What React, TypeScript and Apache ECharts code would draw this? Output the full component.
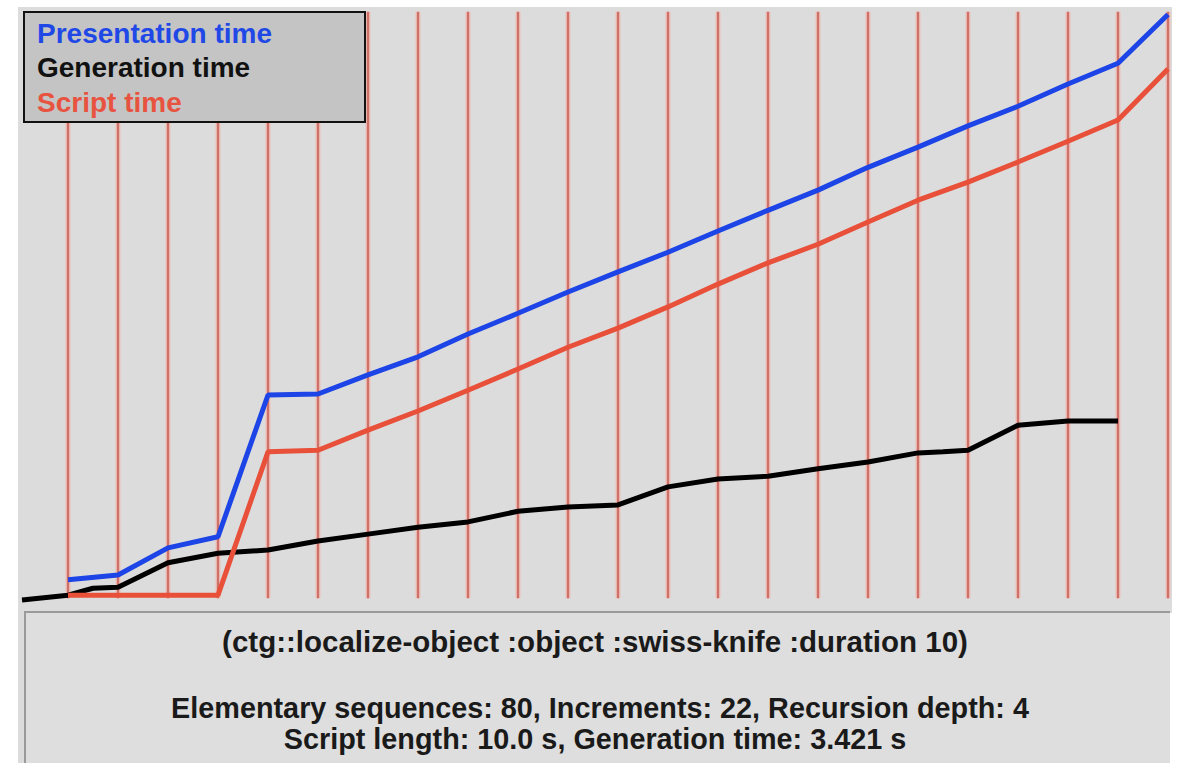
import React, { useEffect, useRef } from "react";
import * as echarts from "echarts";

// grid boundary indices (increments)
const incrementIdx = [0, 1, 2, 3, 4, 5, 6, 7, 8, 9, 10, 11, 12, 13, 14, 15, 16, 17, 18, 19, 20, 21, 22];

// Presentation time (s) at each increment boundary
const presentationX = [0, 1, 2, 3, 4, 5, 6, 7, 8, 9, 10, 11, 12, 13, 14, 15, 16, 17, 18, 19, 20, 21, 22];
const presentationY = [0.4, 0.49, 1.0, 1.21, 3.88, 3.9, 4.26, 4.6, 5.03, 5.42, 5.82, 6.2, 6.57, 6.97, 7.36, 7.74, 8.17, 8.55, 8.95, 9.32, 9.74, 10.13, 11.05];

// Script time (s)
const scriptX = [0, 1, 2, 3, 4, 5, 6, 7, 8, 9, 10, 11, 12, 13, 14, 15, 16, 17, 18, 19, 20, 21, 22];
const scriptY = [0.11, 0.11, 0.11, 0.11, 2.81, 2.84, 3.22, 3.58, 3.97, 4.37, 4.78, 5.14, 5.54, 5.97, 6.37, 6.72, 7.14, 7.55, 7.89, 8.27, 8.66, 9.06, 10.02];

// Generation time (s)
const generationX = [-0.92, 0, 0.5, 1, 2, 3, 4, 5, 6, 7, 8, 9, 10, 11, 12, 13, 14, 15, 16, 17, 17.5, 18, 19, 20, 21];
const generationY = [0.02, 0.11, 0.24, 0.26, 0.72, 0.9, 0.96, 1.13, 1.26, 1.39, 1.49, 1.69, 1.77, 1.81, 2.15, 2.3, 2.35, 2.49, 2.62, 2.79, 2.81, 2.84, 3.31, 3.39, 3.39];

const legendNames = ["Presentation time", "Generation time", "Script time"];
const legendColors = ["#1f48e6", "#111111", "#e8533f"];

const titleText = "(ctg::localize-object :object :swiss-knife :duration 10)";
const infoLine1 = "Elementary sequences: 80, Increments: 22, Recursion depth: 4";
const infoLine2 = "Script length: 10.0 s, Generation time: 3.421 s";

const zip = (xs: number[], ys: number[]) => xs.map((x, i) => [x, ys[i]]);

export default function App() {
  const ref = useRef<HTMLDivElement>(null);
  useEffect(() => {
    if (!ref.current) return;
    const chart = echarts.init(ref.current, undefined, { renderer: "svg" });
    const font = "'Liberation Sans', Arial, sans-serif";
    chart.setOption({
      animation: false,
      backgroundColor: "#ffffff",
      grid: { left: 19, top: 7, width: 1153, height: 594, show: false },
      xAxis: { type: "value", min: -0.98, max: 22.08, show: false },
      yAxis: { type: "value", min: 0, max: 11.19, show: false },
      graphic: [
        { type: "rect", z: -10, shape: { x: 18, y: 7, width: 1154, height: 756 }, style: { fill: "#dcdcdc" } },
        { type: "rect", z: -9, shape: { x: 25, y: 612, width: 1145, height: 160 }, style: { fill: "#dedede" } },
        { type: "polyline", z: -8, shape: { points: [[25, 770], [25, 612], [1170, 612]] }, style: { stroke: "#9a9a9a", lineWidth: 2, fill: "none" } },
        { type: "line", z: -8, shape: { x1: 1171, y1: 613, x2: 1171, y2: 770 }, style: { stroke: "#ffffff", lineWidth: 2 } },
        {
          type: "text", z: 10, x: 595, y: 641,
          style: { text: titleText, font: `bold 29.5px ${font}`, fill: "#1a1a1a", align: "center", verticalAlign: "middle" },
        },
        {
          type: "text", z: 10, x: 600, y: 708,
          style: { text: infoLine1, font: `bold 28.8px ${font}`, fill: "#1a1a1a", align: "center", verticalAlign: "middle" },
        },
        {
          type: "text", z: 10, x: 595, y: 739,
          style: { text: infoLine2, font: `bold 28.8px ${font}`, fill: "#1a1a1a", align: "center", verticalAlign: "middle" },
        },
        { type: "rect", z: 100, shape: { x: 24, y: 12, width: 341, height: 110 }, style: { fill: "#c4c4c4", stroke: "#111111", lineWidth: 2 } },
        ...legendNames.map((n, i) => ({
          type: "text", z: 101, x: 37, y: 33 + i * 34.5,
          style: { text: n, font: `bold 28px ${font}`, fill: legendColors[i], align: "left", verticalAlign: "middle" },
        })),
      ],
      series: [
        {
          type: "custom",
          silent: true,
          z: 1,
          data: incrementIdx.map((k) => [k]),
          renderItem: (params: any, api: any) => {
            const p1 = api.coord([api.value(0), 11.1]);
            const p2 = api.coord([api.value(0), 0.05]);
            return {
              type: "group",
              children: [
                { type: "line", shape: { x1: p1[0], y1: p1[1], x2: p2[0], y2: p2[1] }, style: { stroke: "#efbdb6", lineWidth: 5 } },
                { type: "line", shape: { x1: p1[0], y1: p1[1], x2: p2[0], y2: p2[1] }, style: { stroke: "#cc726b", lineWidth: 2.2 } },
              ],
            };
          },
        },
        {
          name: "Generation time", type: "line", z: 3, symbol: "none",
          data: zip(generationX, generationY),
          lineStyle: { color: "#000000", width: 5 },
        },
        {
          name: "Script time", type: "line", z: 4, symbol: "none",
          data: zip(scriptX, scriptY),
          lineStyle: { color: "#e8503a", width: 5 },
        },
        {
          name: "Presentation time", type: "line", z: 5, symbol: "none",
          data: zip(presentationX, presentationY),
          lineStyle: { color: "#1c44e6", width: 5 },
        },
      ],
    });
    return () => chart.dispose();
  }, []);
  return <div ref={ref} style={{ position: "absolute", left: 0, top: 0, width: 1178, height: 763 }} />;
}
